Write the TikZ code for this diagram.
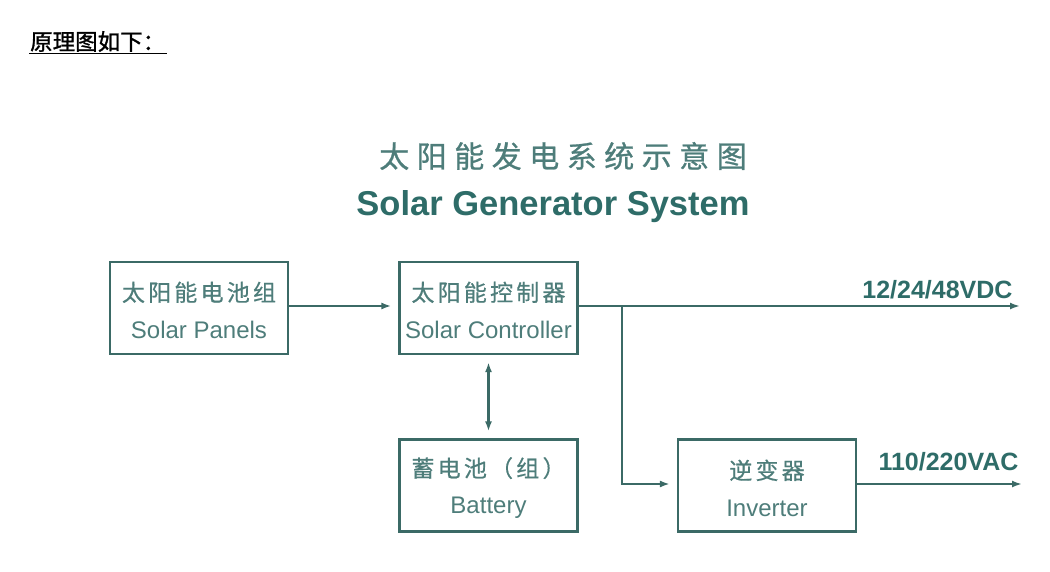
\documentclass[tikz,border=0pt]{standalone}
\usepackage{fontspec}
\setmainfont{Liberation Sans}
\newfontfamily\cjk{Noto Sans CJK SC}
\newfontfamily\cjkhead[FakeBold=1.2]{Noto Sans CJK SC}
\newfontfamily\cjkbox[LetterSpace=14,FakeBold=0.6]{Noto Sans CJK SC}
\newfontfamily\cjktitle[LetterSpace=25,FakeBold=0.8]{Noto Sans CJK SC}
\usetikzlibrary{arrows.meta}
\definecolor{boxline}{HTML}{3B6A66}
\definecolor{boxtext}{HTML}{4E7D7A}
\definecolor{titlecol}{HTML}{2E6C68}
\tikzstyle{block}=[draw=boxline,line width=2.2pt,minimum width=178pt,minimum height=92pt,inner sep=0pt]
\tikzstyle{blocktext}=[inner sep=0pt,align=center,text=boxtext,font=\fontsize{24}{37}\selectfont]
\tikzstyle{wire}=[draw=boxline,line width=2.2pt]
\tikzstyle{tip}=[-{Latex[length=10pt,width=7pt]},shorten >=7pt]

\begin{document}
\begin{tikzpicture}[x=1pt,y=-1pt]
\useasboundingbox (0,0) rectangle (1050,571);
% heading
\node[anchor=base west, inner sep=0pt, font=\cjkhead\fontsize{22.5}{22.5}\selectfont] (hdr) at (30,50) {原理图如下：};
\draw[line width=1.2pt] (29,53.5) -- (167,53.5);
% titles
\node[text=boxtext, font=\cjktitle\fontsize{30}{30}\selectfont] (titlecn) at (563,156) {太阳能发电系统示意图};
\node[text=titlecol, font=\bfseries\fontsize{34.5}{34.5}\selectfont] (titleen) at (553,207) {Solar Generator System};
% blocks
\node[block] (panels) at (199,308) {};
\node[block] (ctrl) at (488.5,308) {};
\node[block] (battery) at (488.5,485.5) {};
\node[block] (inverter) at (767,485.5) {};
\node[blocktext] (panelstxt) at ([yshift=-2pt]panels.center) {{\cjkbox\fontsize{23}{23}\selectfont 太阳能电池组}\\Solar Panels};
\node[blocktext] (ctrltxt) at ([yshift=-2pt]ctrl.center) {{\cjkbox\fontsize{23}{23}\selectfont 太阳能控制器}\\Solar Controller};
\node[blocktext] (batterytxt) at ([yshift=-2.5pt]battery.center) {{\cjkbox\fontsize{23}{23}\selectfont 蓄电池（组）}\\Battery};
\node[blocktext] (invertertxt) at ([yshift=-2.5pt]inverter.center) {{\cjkbox\fontsize{23}{23}\selectfont 逆变器}\\Inverter};
% outputs
\coordinate (junc) at (622,306);
\coordinate (dcout) at (1020,306);
\coordinate (acout) at (1022,484);
\node[anchor=base east, text=titlecol, font=\bfseries\fontsize{25}{25}\selectfont] (dclabel) at (1016,298) {12/24/48VDC};
\node[anchor=base east, text=titlecol, font=\bfseries\fontsize{25}{25}\selectfont] (aclabel) at (1022,470) {110/220VAC};
% connections
\draw[wire,tip] (panels.east |- 0,306) -- (ctrl.west |- 0,306);
\draw[wire,-{Latex[length=10pt,width=7pt]}] (ctrl.east |- 0,306) -- (dcout);
\draw[wire,tip] (junc) |- (inverter.west |- 0,484);
\draw[wire,-{Latex[length=10pt,width=7pt]}] (inverter.east |- 0,484) -- (acout);
\draw[wire,{Latex[length=10pt,width=7pt]}-{Latex[length=10pt,width=7pt]},shorten <=7pt,shorten >=7pt] (ctrl.south) -- (battery.north);
\end{tikzpicture}
\end{document}
